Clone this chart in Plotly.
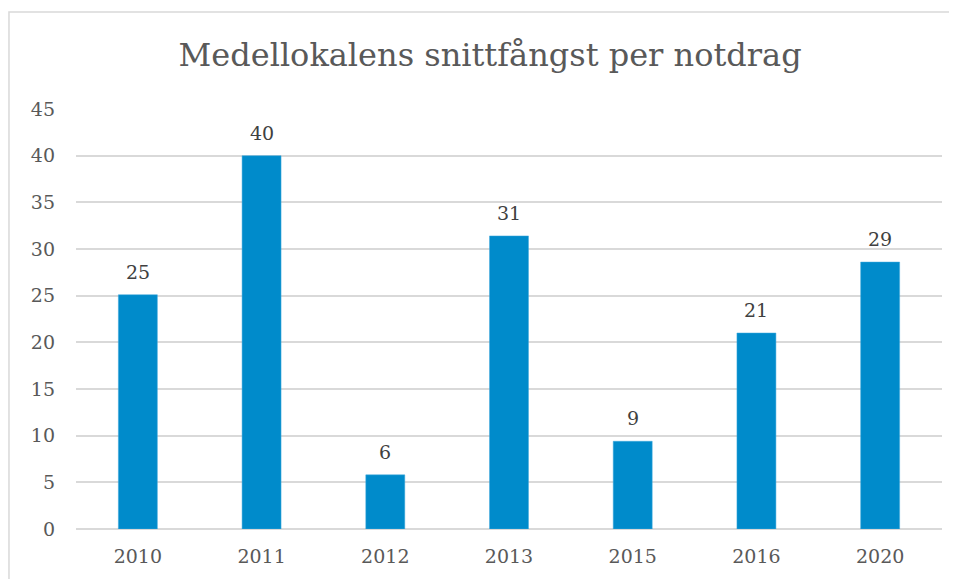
import plotly.graph_objects as go

years = ["2010", "2011", "2012", "2013", "2015", "2016", "2020"]
values = [25.1, 40.0, 5.8, 31.4, 9.4, 21.0, 28.6]
labels = ["25", "40", "6", "31", "9", "21", "29"]
yticks = [0, 5, 10, 15, 20, 25, 30, 35, 40, 45]

FONT = "Georgia, 'DejaVu Serif', serif"

fig = go.Figure()
fig.add_trace(go.Bar(
    x=years, y=values,
    marker=dict(color="#008BCB", line=dict(color="#3FA9DC", width=0.5)),
    hoverinfo="skip",
))

for i, (v, lab) in enumerate(zip(values, labels)):
    fig.add_annotation(x=i, y=v, xref="x", yref="y", text=lab, showarrow=False,
                       yanchor="bottom", yshift=10,
                       font=dict(family=FONT, size=19, color="#404040"))

# page body has an 8px default margin, so the figure is offset by 8px
fig.update_layout(
    width=949, height=571,
    margin=dict(l=68, r=15, t=101, b=50),
    paper_bgcolor="white", plot_bgcolor="white",
    bargap=0.685,
    showlegend=False,
    title=dict(text="Medellokalens snittfångst per notdrag",
               x=0.508, xanchor="center", y=0.918, yanchor="middle",
               font=dict(family=FONT, size=32, color="#595959")),
    xaxis=dict(type="category", categoryarray=years, categoryorder="array",
               range=[-0.5, len(years) - 0.5],
               showgrid=False, showline=False, ticks="",
               tickfont=dict(family=FONT, size=19, color="#595959"),
               ticklabelstandoff=14),
    yaxis=dict(range=[0, 45], tickvals=yticks, showgrid=True,
               gridcolor="#D9D9D9", gridwidth=1.5, zeroline=True,
               zerolinecolor="#D9D9D9", zerolinewidth=1.5, showline=False,
               ticks="", tickfont=dict(family=FONT, size=19, color="#595959"),
               ticklabelstandoff=20),
    shapes=[dict(type="rect", xref="paper", yref="paper",
                 x0=-0.0774, x1=1.03, y0=-0.3, y1=1.231,
                 line=dict(color="#D9D9D9", width=1.5), fillcolor="rgba(0,0,0,0)",
                 layer="below")],
)

fig.write_html("out.html")
